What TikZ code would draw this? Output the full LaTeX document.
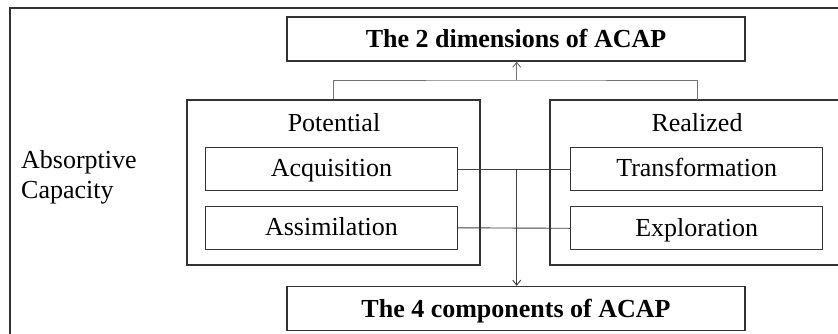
\documentclass[tikz,border=0pt]{standalone}
\usepackage{fontspec}
\setmainfont{Liberation Serif}
\usetikzlibrary{arrows.meta}
\begin{document}
\begin{tikzpicture}[x=1pt,y=-1pt,
  box/.style={draw=black!80,line width=1.3pt,inner sep=0pt},
  conn/.style={draw=black!75,line width=0.9pt},
  arr/.style={-{Straight Barb[length=5pt,width=8pt,line width=0.9pt]}},
  txt/.style={font=\fontsize{26}{30}\selectfont},
  capht/.style={text height=17pt,text depth=0pt},
  btxt/.style={font=\fontsize{26}{31}\selectfont\bfseries}]
\useasboundingbox (0,0) rectangle (838,333);
\fill[white] (0,0) rectangle (838,333);
% outer frame (clipped on the right and bottom)
\draw[black!80,line width=1.3pt] (10,345) -- (10,8) -- (850,8);
% top and bottom title boxes
\node[box,btxt,capht,minimum width=458pt,minimum height=44pt] (dims) at (516,39) {The 2 dimensions of ACAP};
\node[box,btxt,capht,minimum width=458pt,minimum height=44pt] (comps) at (516,308.5) {The 4 components of ACAP};
% group boxes
\node[box,minimum width=293pt,minimum height=165pt] (pot) at (333.5,182.5) {};
\draw[black!80,line width=1.3pt] (850,100) -- (550,100) -- (550,265) -- (850,265);
\coordinate (real) at (697,100);
\node[txt,capht,inner sep=0pt] (potl) at (334,123) {Potential};
\node[txt,capht,inner sep=0pt] (reall) at (697,123) {Realized};
% component boxes
\node[box,txt,minimum width=252pt,minimum height=43pt] (acq) at (331.5,169.3) {};
\node[box,txt,minimum width=252pt,minimum height=43pt] (ass) at (331.5,227.8) {};
\node[box,txt,minimum width=252pt,minimum height=43pt] (tra) at (696.7,169.3) {};
\node[box,txt,minimum width=252pt,minimum height=43pt] (exp) at (696.7,228.3) {};
\node[txt,capht,inner sep=0pt] (acqt) at ([yshift=1.2pt]acq.center) {Acquisition};
\node[txt,capht,inner sep=0pt] (asst) at ([yshift=0.5pt]ass.center) {Assimilation};
\node[txt,capht,inner sep=0pt] (trat) at ([yshift=1.2pt]tra.center) {Transformation};
\node[txt,capht,inner sep=0pt] (expt) at ([yshift=0.5pt]exp.center) {Exploration};
% side label
\node[txt,align=left,anchor=west,inner sep=0pt] (ac) at (21,177) {Absorptive\\Capacity};
% connectors
\coordinate (topj) at (516.7,80);
\draw[conn,black!55] (pot.north) |- (topj) -| (real);
\draw[conn,black!55,arr] (topj) -- (dims.south -| topj);
\draw[conn] (acq.east) -- (tra.west);
\draw[conn] (ass.east) -- (exp.west);
\coordinate (midj) at (516.7,169.3);
\draw[conn,arr] (midj) -- (comps.north -| midj);
\end{tikzpicture}
\end{document}
